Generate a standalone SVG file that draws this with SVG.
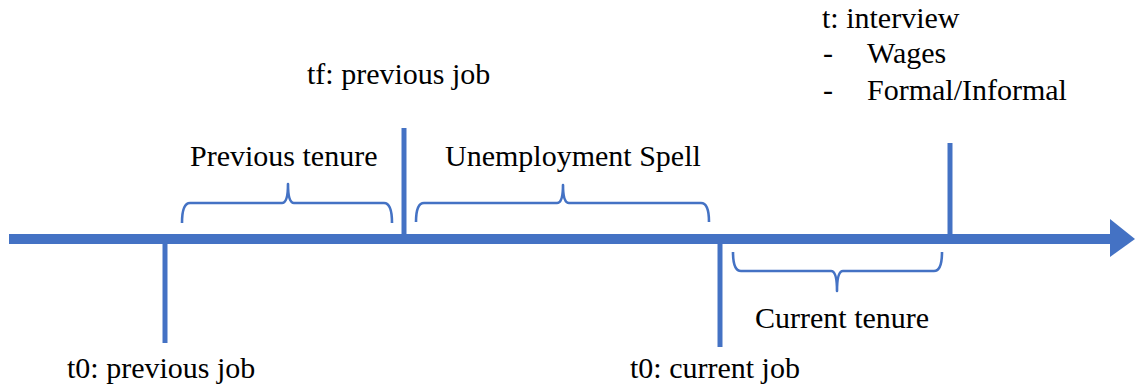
<svg xmlns="http://www.w3.org/2000/svg" width="1135" height="388" viewBox="0 0 1135 388">
<style>
.t{font-family:"Liberation Serif","Times New Roman",serif;font-size:30px;fill:#000}
.tick{stroke:#4472C4;stroke-width:5;fill:none}
.brace{stroke:#4472C4;stroke-width:2.6;fill:none;stroke-linejoin:round}
</style>
<rect width="1135" height="388" fill="#fff"/>
<g id="connectors">
<line x1="9" y1="239" x2="1112" y2="239" stroke="#4472C4" stroke-width="10"/>
<polygon points="1110,219 1135,239 1110,257" fill="#4472C4"/>
</g>
<g id="t0-previous">
<line class="tick" x1="165" y1="239" x2="165" y2="343"/>
<text class="t" x="67" y="378">t0: previous job</text>
</g>
<g id="tf-previous">
<line class="tick" x1="404" y1="128" x2="404" y2="240"/>
<text class="t" x="307" y="84">tf: previous job</text>
</g>
<g id="t0-current">
<line class="tick" x1="720" y1="239" x2="720" y2="347"/>
<text class="t" x="630" y="378">t0: current job</text>
</g>
<g id="t-interview">
<line class="tick" x1="950" y1="143" x2="950" y2="240"/>
<text class="t" x="822" y="28">t: interview</text>
<text class="t" x="823" y="63">-</text>
<text class="t" x="867" y="63">Wages</text>
<text class="t" x="823" y="100">-</text>
<text class="t" x="867" y="100">Formal/Informal</text>
</g>
<g id="previous-tenure">
<path class="brace" d="M182,223 Q182,203 190,203 L282,203 Q288,203 288,184 Q288,203 294,203 L384,203 Q392,203 392,223"/>
<text class="t" x="190" y="166">Previous tenure</text>
</g>
<g id="unemployment-spell">
<path class="brace" d="M416,222 Q416,203 424,203 L557,203 Q563,203 563,185 Q563,203 569,203 L701,203 Q709,203 709,222"/>
<text class="t" x="445" y="166">Unemployment Spell</text>
</g>
<g id="current-tenure">
<path class="brace" d="M733,252 Q733,271 741,271 L831,271 Q837,271 837,291 Q837,271 843,271 L934,271 Q942,271 942,252"/>
<text class="t" x="755" y="328">Current tenure</text>
</g>
</svg>
